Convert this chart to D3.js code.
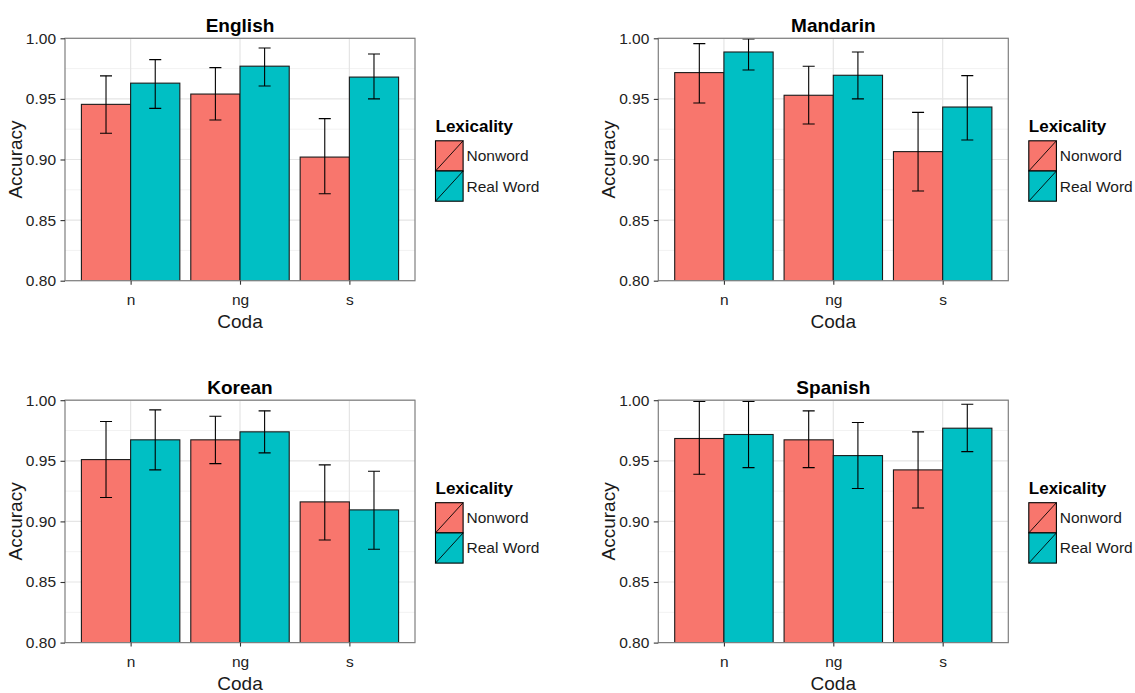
<!DOCTYPE html>
<html>
<head>
<meta charset="utf-8">
<script src="https://cdn.jsdelivr.net/npm/d3@7"></script>
<style>
  body { margin: 0; background: #fff; }
  svg { font-family: "Liberation Sans", Arial, sans-serif; }
</style>
</head>
<body>
<div id="chart"></div>
<script>
// Categories and tick labels
var codas = ["n", "ng", "s"];
var lexicality = ["Nonword", "Real Word"];
var yTicks = [0.8, 0.85, 0.9, 0.95, 1.0];
var yMinorTicks = [0.825, 0.875, 0.925, 0.975];

// English
var englishNonword = [0.9455, 0.954, 0.902];
var englishRealWord = [0.963, 0.977, 0.968];
var englishNonwordErr = [[0.9216, 0.969], [0.9326, 0.9758], [0.8718, 0.9337]];
var englishRealWordErr = [[0.9422, 0.9824], [0.9607, 0.992], [0.95, 0.987]];

// Mandarin
var mandarinNonword = [0.9717, 0.953, 0.9065];
var mandarinRealWord = [0.9887, 0.9695, 0.9433];
var mandarinNonwordErr = [[0.9466, 0.9956], [0.9293, 0.9769], [0.874, 0.9389]];
var mandarinRealWordErr = [[0.9739, 0.9995], [0.95, 0.9887], [0.9161, 0.9692]];

// Korean
var koreanNonword = [0.951, 0.9673, 0.9161];
var koreanRealWord = [0.9673, 0.9739, 0.9095];
var koreanNonwordErr = [[0.9197, 0.9824], [0.9477, 0.9868], [0.8847, 0.9466]];
var koreanRealWordErr = [[0.9425, 0.992], [0.9565, 0.9912], [0.877, 0.9414]];

// Spanish
var spanishNonword = [0.9684, 0.9673, 0.9425];
var spanishRealWord = [0.9717, 0.9543, 0.9769];
var spanishNonwordErr = [[0.9389, 0.9989], [0.9444, 0.9912], [0.9111, 0.9739]];
var spanishRealWordErr = [[0.9444, 0.9989], [0.9271, 0.9816], [0.9576, 0.9967]];

var colors = ["#F8766D", "#00BFC4"];

var svg = d3
  .select("#chart")
  .append("svg")
  .attr("width", 1135)
  .attr("height", 693);

// Draw one facet-like panel with its own legend
function drawPanel(id, title, nonword, realWord, nonwordErr, realWordErr, left, top) {
  var width = 350;
  var height = 242.4;
  var g = svg.append("g").attr("transform", "translate(" + left + "," + top + ")");

  var x = d3.scalePoint().domain(codas).range([0, width]).padding(0.6);
  var step = x.step();
  var y = d3.scaleLinear().domain([0.8, 1.0]).range([height, 0]);

  // Grid lines
  g.selectAll(".minor")
    .data(yMinorTicks)
    .enter()
    .append("line")
    .attr("x1", 0)
    .attr("x2", width)
    .attr("y1", function (d) { return y(d); })
    .attr("y2", function (d) { return y(d); })
    .attr("stroke", "#F2F2F2")
    .attr("stroke-width", 1);

  g.selectAll(".major")
    .data(yTicks)
    .enter()
    .append("line")
    .attr("x1", 0)
    .attr("x2", width)
    .attr("y1", function (d) { return y(d); })
    .attr("y2", function (d) { return y(d); })
    .attr("stroke", "#E5E5E5")
    .attr("stroke-width", 1.2);

  g.selectAll(".vmajor")
    .data(codas)
    .enter()
    .append("line")
    .attr("x1", function (d) { return x(d); })
    .attr("x2", function (d) { return x(d); })
    .attr("y1", 0)
    .attr("y2", height)
    .attr("stroke", "#E5E5E5")
    .attr("stroke-width", 1.2);

  // Clip bars to the panel
  g.append("clipPath")
    .attr("id", "clip-" + id)
    .append("rect")
    .attr("width", width)
    .attr("height", height);

  var plot = g.append("g").attr("clip-path", "url(#clip-" + id + ")");

  var rows = [];
  codas.forEach(function (c, i) {
    rows.push({ coda: c, group: 0, value: nonword[i], err: nonwordErr[i] });
    rows.push({ coda: c, group: 1, value: realWord[i], err: realWordErr[i] });
  });

  var barW = step * 0.45;

  plot.selectAll(".bar")
    .data(rows)
    .enter()
    .append("rect")
    .attr("x", function (d) { return x(d.coda) - barW + d.group * barW; })
    .attr("y", function (d) { return y(d.value); })
    .attr("width", barW)
    .attr("height", function (d) { return y(0.79) - y(d.value); })
    .attr("fill", function (d) { return colors[d.group]; })
    .attr("stroke", "#1a1a1a")
    .attr("stroke-width", 1.1);

  // Error bars
  var capW = step * 0.055;
  var eb = plot.selectAll(".err").data(rows).enter().append("g")
    .attr("stroke", "#000")
    .attr("stroke-width", 1.1);
  function cx(d) { return x(d.coda) - barW / 2 + d.group * barW; }
  eb.append("line")
    .attr("x1", cx).attr("x2", cx)
    .attr("y1", function (d) { return y(d.err[0]); })
    .attr("y2", function (d) { return y(d.err[1]); });
  eb.append("line")
    .attr("x1", function (d) { return cx(d) - capW; })
    .attr("x2", function (d) { return cx(d) + capW; })
    .attr("y1", function (d) { return y(d.err[0]); })
    .attr("y2", function (d) { return y(d.err[0]); });
  eb.append("line")
    .attr("x1", function (d) { return cx(d) - capW; })
    .attr("x2", function (d) { return cx(d) + capW; })
    .attr("y1", function (d) { return y(d.err[1]); })
    .attr("y2", function (d) { return y(d.err[1]); });

  // Panel border
  g.append("rect")
    .attr("width", width)
    .attr("height", height)
    .attr("fill", "none")
    .attr("stroke", "#7F7F7F")
    .attr("stroke-width", 1.2);

  // Axes
  var yAxis = g.append("g")
    .call(d3.axisLeft(y).tickValues(yTicks).tickFormat(d3.format(".2f")).tickSize(4.5).tickPadding(4.5));
  var xAxis = g.append("g")
    .attr("transform", "translate(0," + height + ")")
    .call(d3.axisBottom(x).tickSize(4).tickPadding(9));
  [yAxis, xAxis].forEach(function (a) {
    a.select(".domain").remove();
    a.selectAll(".tick line").attr("stroke", "#333").attr("stroke-width", 1.1);
    a.selectAll(".tick text")
      .attr("fill", "#222")
      .style("font-size", "15.5px")
      .style("font-family", "'Liberation Sans', Arial, sans-serif");
  });

  // Titles
  g.append("text")
    .attr("x", width / 2)
    .attr("y", -6)
    .attr("text-anchor", "middle")
    .style("font-size", "19px")
    .style("font-weight", "bold")
    .text(title);

  g.append("text")
    .attr("x", width / 2)
    .attr("y", height + 47)
    .attr("text-anchor", "middle")
    .style("font-size", "19px")
    .attr("fill", "#1a1a1a")
    .text("Coda");

  g.append("text")
    .attr("transform", "translate(-43," + height / 2 + ") rotate(-90)")
    .attr("text-anchor", "middle")
    .style("font-size", "19px")
    .attr("fill", "#1a1a1a")
    .text("Accuracy");

  // Legend
  var lg = g.append("g").attr("transform", "translate(" + (width + 20.5) + "," + 94 + ")");
  lg.append("text")
    .attr("x", 0)
    .attr("y", 0)
    .style("font-size", "17px")
    .style("font-weight", "bold")
    .text("Lexicality");

  var keys = lg.selectAll(".key")
    .data(lexicality)
    .enter()
    .append("g")
    .attr("transform", function (d, i) { return "translate(0," + (8.5 + i * 30.2) + ")"; });
  keys.append("rect")
    .attr("width", 27.6)
    .attr("height", 30.2)
    .attr("fill", function (d, i) { return colors[i]; })
    .attr("stroke", "#000")
    .attr("stroke-width", 1.1);
  keys.append("line")
    .attr("x1", 0)
    .attr("y1", 30.2)
    .attr("x2", 27.6)
    .attr("y2", 0)
    .attr("stroke", "#000")
    .attr("stroke-width", 0.9);
  keys.append("text")
    .attr("x", 31)
    .attr("y", 15.1)
    .attr("dy", "0.35em")
    .style("font-size", "15.5px")
    .attr("fill", "#1a1a1a")
    .text(function (d) { return d; });
}

drawPanel("en", "English", englishNonword, englishRealWord, englishNonwordErr, englishRealWordErr, 65, 38.3);
drawPanel("zh", "Mandarin", mandarinNonword, mandarinRealWord, mandarinNonwordErr, mandarinRealWordErr, 658.3, 38.3);
drawPanel("ko", "Korean", koreanNonword, koreanRealWord, koreanNonwordErr, koreanRealWordErr, 65, 400.2);
drawPanel("es", "Spanish", spanishNonword, spanishRealWord, spanishNonwordErr, spanishRealWordErr, 658.3, 400.2);
</script>
</body>
</html>
